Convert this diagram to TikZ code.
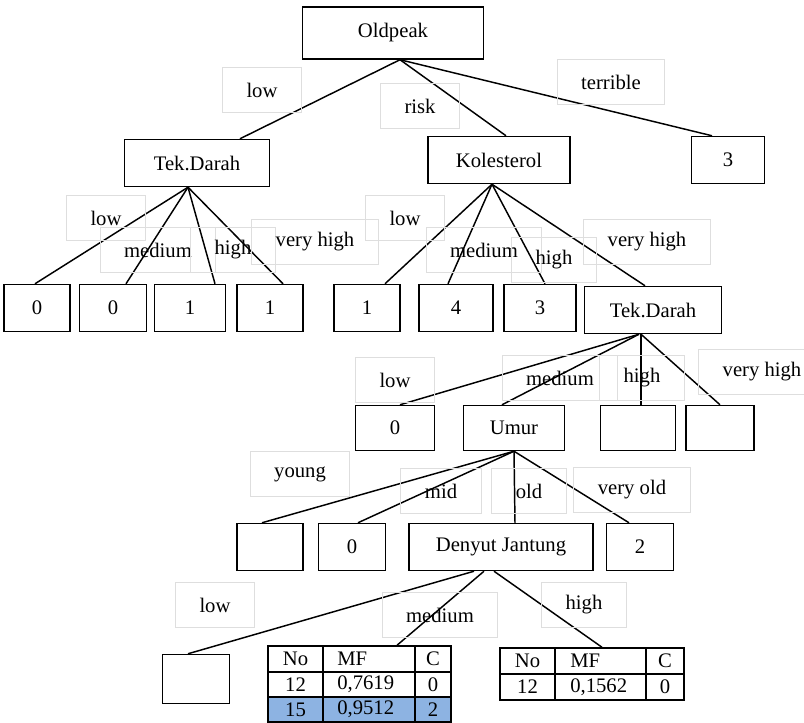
\documentclass[tikz,border=0pt]{standalone}
\usepackage{fontspec}
\setmainfont{Liberation Serif}
\usetikzlibrary{calc}
\definecolor{cellblue}{RGB}{141,179,226}
\definecolor{labeledge}{gray}{0.87}
\def\upx{0.75pt}

\begin{document}
\begin{tikzpicture}[x=0.75pt,y=-0.75pt,
  box/.style={draw, line width=1.1pt, fill=white, inner sep=0pt,
    minimum height=47*\upx, font=\fontsize{15.5}{18}\selectfont},
  lbl/.style={draw=labeledge, line width=0.8pt, inner xsep=18pt,
    minimum height=45*\upx, font=\fontsize{15.5}{18}\selectfont},
  link/.style={line width=1.1pt},
  cell/.style={inner sep=0pt, font=\fontsize{15.5}{18}\selectfont}]
  \useasboundingbox (0,0) rectangle (804,723);
  % Level 0 and 1
  \node[box, minimum width=181*\upx, minimum height=52*\upx] (op) at (393,33) {Oldpeak};
  \node[box, minimum width=145*\upx] (tdA) at (197,163) {Tek.Darah};
  \node[box, minimum width=142*\upx] (kol) at (499,160) {Kolesterol};
  \node[box, minimum width=73*\upx] (t3) at (728,160) {3};
  % Level 2
  \node[box, minimum width=66*\upx] (a0) at (37,308) {0};
  \node[box, minimum width=67*\upx] (a1) at (113,308) {0};
  \node[box, minimum width=71*\upx] (a2) at (190,308) {1};
  \node[box, minimum width=66*\upx] (a3) at (270,308) {1};
  \node[box, minimum width=66*\upx] (b1) at (367,308) {1};
  \node[box, minimum width=74*\upx] (b2) at (456,308) {4};
  \node[box, minimum width=72*\upx] (b3) at (540,308) {3};
  \node[box, minimum width=137*\upx] (tdB) at (653,310) {Tek.Darah};
  % Level 3
  \node[box, minimum width=79*\upx, minimum height=45*\upx] (c0) at (395,428) {0};
  \node[box, minimum width=101*\upx, minimum height=45*\upx] (umur) at (514,428) {Umur};
  \node[box, minimum width=75*\upx, minimum height=45*\upx] (c2) at (638,428) {};
  \node[box, minimum width=68*\upx, minimum height=45*\upx] (c3) at (720,428) {};
  % Level 4
  \node[box, minimum width=66*\upx] (d0) at (270,547) {};
  \node[box, minimum width=67*\upx] (d1) at (352,547) {0};
  \node[box, minimum width=184*\upx] (dj) at (501,547) {Denyut Jantung};
  \node[box, minimum width=67*\upx] (d2) at (640,547) {2};
  % Level 5
  \node[box, minimum width=67*\upx, minimum height=49*\upx] (e0) at (196,679) {};
  % table A
  \fill[cellblue] (268,697) rectangle (451,722);
  \node[draw, line width=1.1pt, inner sep=0pt, minimum width=183*\upx,
    minimum height=76*\upx] (tblA) at (359.5,684) {};
  \draw[line width=1.1pt] (323,646) -- (323,722) (415,646) -- (415,722)
    (268,672) -- (451,672) (268,697) -- (451,697);
  \node[cell] at (295.5,659) {No};
  \node[cell, anchor=west] at (337,659) {MF};
  \node[cell] at (433,659) {C};
  \node[cell] at (295.5,684.5) {12};
  \node[cell, anchor=west] at (337,684.5) {0,7619};
  \node[cell] at (433,684.5) {0};
  \node[cell] at (295.5,709.5) {15};
  \node[cell, anchor=west] at (337,709.5) {0,9512};
  \node[cell] at (433,709.5) {2};
  % table B
  \node[draw, line width=1.1pt, inner sep=0pt, minimum width=184*\upx,
    minimum height=52*\upx] (tblB) at (592,674) {};
  \draw[line width=1.1pt] (555,648) -- (555,700) (646,648) -- (646,700)
    (500,674) -- (684,674);
  \node[cell] at (527.5,661) {No};
  \node[cell, anchor=west] at (570,661) {MF};
  \node[cell] at (665,661) {C};
  \node[cell] at (527.5,687) {12};
  \node[cell, anchor=west] at (570,687) {0,1562};
  \node[cell] at (665,687) {0};
  % Branches
  \draw[link] ($(op.south)+(7,0)$) -- ($(tdA.north)+(43,0)$);
  \draw[link] ($(op.south)+(7,0)$) -- ($(kol.north)+(7,0)$);
  \draw[link] ($(op.south)+(7,0)$) -- ($(t3.north)+(-16,0)$);
  \draw[link] ($(tdA.south)+(-9,0)$) -- ($(a0.north)+(-2,0)$);
  \draw[link] ($(tdA.south)+(-9,0)$) -- ($(a1.north)+(13,0)$);
  \draw[link] ($(tdA.south)+(-9,0)$) -- ($(a2.north)+(25,0)$);
  \draw[link] ($(tdA.south)+(-9,0)$) -- ($(a3.north)+(13,0)$);
  \draw[link] ($(kol.south)+(-7,0)$) -- ($(b1.north)+(18,0)$);
  \draw[link] ($(kol.south)+(-7,0)$) -- ($(b2.north)+(-8,0)$);
  \draw[link] ($(kol.south)+(-7,0)$) -- ($(b3.north)+(5,0)$);
  \draw[link] ($(kol.south)+(-7,0)$) -- ($(tdB.north)+(-8,0)$);
  \draw[link] ($(tdB.south)+(-14,0)$) -- ($(c0.north)+(5,0)$);
  \draw[link] ($(tdB.south)+(-14,0)$) -- ($(umur.north)+(-12,0)$);
  \draw[link] ($(tdB.south)+(-12,0)$) -- ($(c2.north)+(3,0)$);
  \draw[link] ($(tdB.south)+(-12,0)$) -- (c3.north);
  \draw[link] (umur.south) -- ($(d0.north)+(-8,0)$);
  \draw[link] (umur.south) -- ($(d1.north)+(6,0)$);
  \draw[link] (umur.south) -- ($(dj.north)+(14,0)$);
  \draw[link] (umur.south) -- ($(d2.north)+(-11,0)$);
  \draw[link] ($(dj.south)+(-27,0)$) -- ($(e0.north)+(-8,0)$);
  \draw[link] ($(dj.south)+(-17,0)$) -- ($(tblA.north)+(37.5,0)$);
  \draw[link] ($(dj.south)+(-7,0)$) -- ($(tblB.north)+(10,0)$);
  % Branch labels
  \node[lbl] (l1) at (262,90) {low};
  \node[lbl] (l2) at (420,106) {risk};
  \node[lbl] (l3) at (611,82) {terrible};
  \node[lbl] (l4) at (106,218) {low};
  \node[lbl] (l5) at (158,250) {medium};
  \node[lbl] (l6) at (233,250) {high};
  \node[lbl] (l7) at (315,242) {very high};
  \node[lbl] (l8) at (405,218) {low};
  \node[lbl] (l9) at (484,250) {medium};
  \node[lbl] (l10) at (554,260) {high};
  \node[lbl] (l11) at (647,242) {very high};
  \node[lbl] (l12) at (395,380) {low};
  \node[lbl] (l13) at (560,378) {medium};
  \node[lbl] (l14) at (642,378) {high};
  \node[lbl] (l15) at (762,372) {very high};
  \node[lbl] (l16) at (300,474) {young};
  \node[lbl] (l17) at (441,491) {mid};
  \node[lbl] (l18) at (529,491) {old};
  \node[lbl] (l19) at (632,490) {very old};
  \node[lbl] (l20) at (215,605) {low};
  \node[lbl] (l21) at (440,615) {medium};
  \node[lbl] (l22) at (584,605) {high};
\end{tikzpicture}
\end{document}
